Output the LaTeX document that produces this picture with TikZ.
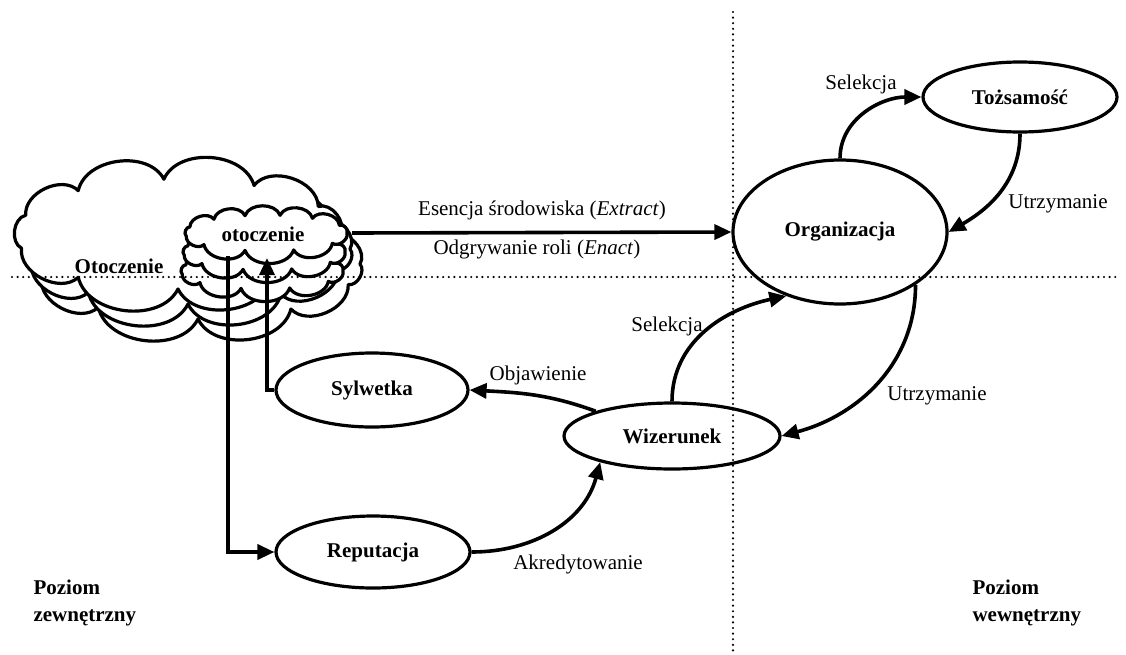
\documentclass[tikz,border=0pt]{standalone}
\usepackage{fontspec}
\setmainfont{Liberation Serif}
\usetikzlibrary{shapes.geometric,arrows.meta}
% closed cloud outline: centre, half axes, lobe angles (ending with 360), lobe bend
\newcommand\puffcloud[5]{%
  \draw[cloudline] ([shift={#1}]0:#2 and #3)
    \foreach \a in {#4} { to[bend right=#5] ([shift={#1}]\a:#2 and #3) } -- cycle;}
\begin{document}
\begin{tikzpicture}[x=1pt,y=-1pt,
  every node/.style={font=\fontsize{21}{25}\selectfont},
  oval/.style={ellipse,draw,line width=3.2pt,inner sep=0pt,
    font=\fontsize{21}{25}\selectfont\bfseries},
  cloudline/.style={draw,fill=white,line width=3.2pt,line join=round},
  flow/.style={line width=3.6pt,-{Triangle[length=17pt,width=15pt]}},
  sep/.style={line width=2.4pt,line cap=round,dash pattern=on 0pt off 5.6pt},
  level/.style={anchor=west,align=left,font=\fontsize{21}{27}\selectfont\bfseries}
]
\useasboundingbox (0,0) rectangle (1126,654);

% environment cloud, stacked in depth
\foreach \d in {2,1,0}{
  \puffcloud{(178+10*\d,234+15*\d)}{162pt}{55pt}{30,62,95,128,160,195,232,270,305,338,360}{70}
}
% inner environment cloud, stacked in depth
\foreach \d in {2,1,0}{
  \puffcloud{(266-2*\d,233+19*\d)}{81pt}{18pt}{25,55,80,105,130,160,190,220,255,290,325,360}{70}
}

% level separators
\draw[sep] (733,12) -- (733,654);
\draw[sep] (12,277) -- (1120,277);

\node[font=\fontsize{21}{25}\selectfont\bfseries] (otA) at (119,266) {Otoczenie};
\node[font=\fontsize{21}{25}\selectfont\bfseries] (otB) at (263,234) {otoczenie};
\coordinate (csE) at (352,233);
\coordinate (csS) at (267,258);
\coordinate (down) at (228,256);

% elements
\node[oval,minimum width=214pt,minimum height=144pt] (org) at (840,232) {Organizacja};
\node[oval,minimum width=194pt,minimum height=70pt] (toz) at (1020,97) {Tożsamość};
\node[oval,minimum width=192pt,minimum height=74pt] (syl) at (372,390) {Sylwetka};
\node[oval,minimum width=216pt,minimum height=66pt] (wiz) at (672,436) {Wizerunek};
\node[oval,minimum width=194pt,minimum height=72pt] (rep) at (373,552) {Reputacja};

% edge labels
\node (l1) at (861,84) {Selekcja};
\node (l2) at (1058,204) {Utrzymanie};
\node (l3) at (542,210) {Esencja środowiska (\textit{Extract})};
\node (l4) at (537,249) {Odgrywanie roli (\textit{Enact})};
\node (l5) at (667,326) {Selekcja};
\node (l6) at (538,375) {Objawienie};
\node (l7) at (937,396) {Utrzymanie};
\node (l8) at (578,564) {Akredytowanie};

\node[level] (pz) at (30,603) {Poziom\\zewnętrzny};
\node[level] (pw) at (969,603) {Poziom\\wewnętrzny};

% connectors
\draw[flow] (org.north) to[out=90,in=180] (toz.west);
\draw[flow] (toz.south) to[out=-90,in=30] (org.east);
\draw[flow] (csE) -- (org.west);
\draw[flow] (org.-35) to[out=-90,in=15] (wiz.east);
\draw[flow] (wiz.north) to[out=90,in=192] (org.-130);
\draw[flow] (wiz.162) to[out=160,in=-3] (syl.east);
\draw[flow] (rep.east) to[out=0,in=-105] (wiz.-160);
\draw[flow] (down) |- (rep.west);
\draw[flow] (syl.west) -| (csS);
\end{tikzpicture}
\end{document}
